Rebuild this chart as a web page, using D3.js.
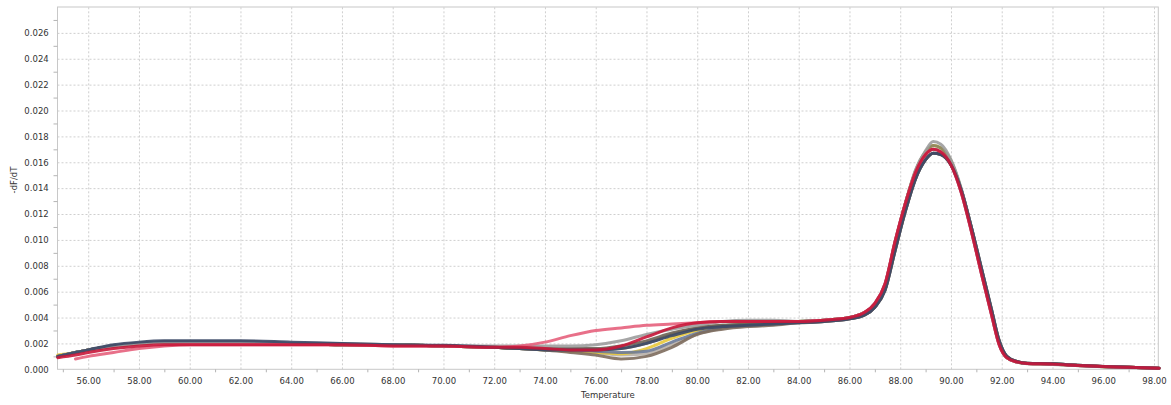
<!DOCTYPE html>
<html>
<head>
<meta charset="utf-8">
<script src="https://cdn.jsdelivr.net/npm/d3@7"></script>
<style>
  html, body { margin: 0; padding: 0; background: #fff; }
  svg { display: block; }
</style>
</head>
<body>
<svg id="chart" width="1171" height="405"></svg>
<script>
// melt curve data
const temps = [54.8, 55.5, 56, 57, 58, 59, 60, 62, 64, 66, 68, 70, 72, 73, 74, 75, 76, 77, 78, 79, 80, 81, 82, 83,
               84, 85, 86, 86.6, 87, 87.4, 87.8, 88.2, 88.6, 89.0, 89.3, 89.6, 90.0, 90.4, 90.8, 91.2, 91.6, 91.9,
               92.2, 92.6, 93, 94, 95, 96, 97, 98.2];

// 54.8 .. 83
const lowNavy      = [0.0010, 0.0013, 0.0015, 0.0019, 0.0021, 0.0022, 0.0022, 0.0022, 0.0021, 0.0020, 0.0019, 0.00185, 0.0017, 0.0016, 0.0015, 0.0015, 0.0015, 0.0016, 0.0020, 0.0026, 0.0031, 0.0033, 0.0034, 0.0035];
const lowRed       = [0.0009, 0.0011, 0.0013, 0.0016, 0.0018, 0.0019, 0.0019, 0.0019, 0.0019, 0.0019, 0.0018, 0.0018, 0.0017, 0.0017, 0.0016, 0.0015, 0.0015, 0.0018, 0.0025, 0.0032, 0.0036, 0.0037, 0.0037, 0.0037];
const lowPink      = [null, 0.0008, 0.0010, 0.0013, 0.0016, 0.0018, 0.0019, 0.0019, 0.0019, 0.0019, 0.0018, 0.0018, 0.0017, 0.0018, 0.0021, 0.0026, 0.0030, 0.0032, 0.0034, 0.0035, 0.0036, 0.0037, 0.0037, 0.0037];
const lowGray      = [0.0010, 0.0013, 0.0015, 0.0018, 0.0020, 0.0021, 0.0021, 0.0021, 0.0020, 0.0020, 0.0019, 0.0018, 0.0018, 0.0018, 0.0018, 0.0018, 0.0019, 0.0022, 0.0027, 0.0031, 0.0034, 0.0037, 0.0038, 0.0038];
const lowLightGray = [0.0010, 0.0013, 0.0015, 0.0018, 0.0020, 0.0021, 0.0021, 0.0021, 0.0020, 0.0019, 0.0019, 0.0018, 0.0017, 0.0016, 0.0015, 0.0014, 0.0013, 0.0011, 0.0012, 0.0019, 0.0027, 0.0032, 0.0035, 0.0037];
const lowYellow    = [0.0011, 0.0013, 0.0015, 0.0018, 0.0020, 0.0021, 0.0021, 0.0021, 0.0020, 0.0019, 0.0019, 0.0018, 0.0017, 0.0016, 0.0015, 0.0014, 0.0013, 0.0012, 0.0016, 0.0024, 0.0030, 0.0033, 0.0034, 0.0035];
const lowOlive     = [0.0010, 0.0013, 0.0015, 0.0018, 0.0020, 0.0021, 0.0021, 0.0021, 0.0020, 0.0019, 0.0019, 0.0018, 0.0017, 0.0016, 0.0016, 0.0015, 0.0015, 0.0016, 0.0020, 0.0027, 0.0032, 0.0034, 0.0035, 0.0036];
const lowBlueGray  = [0.0010, 0.0013, 0.0015, 0.0018, 0.0020, 0.0021, 0.0021, 0.0021, 0.0020, 0.0019, 0.0019, 0.0018, 0.0017, 0.0016, 0.0015, 0.0015, 0.0014, 0.0013, 0.0014, 0.0021, 0.0028, 0.0032, 0.0034, 0.0035];
const lowBrown     = [0.0010, 0.0013, 0.0015, 0.0018, 0.0020, 0.0021, 0.0021, 0.0021, 0.0020, 0.0019, 0.0019, 0.0018, 0.0017, 0.0016, 0.0015, 0.0013, 0.0011, 0.0008, 0.0010, 0.0017, 0.0027, 0.0031, 0.0033, 0.0034];
const lowDarkBrown = [0.0010, 0.0013, 0.0015, 0.0018, 0.0020, 0.0021, 0.0021, 0.0021, 0.0020, 0.0019, 0.0019, 0.0018, 0.0017, 0.0016, 0.0016, 0.0016, 0.0016, 0.0018, 0.0022, 0.0028, 0.0032, 0.0034, 0.0035, 0.0036];

// 84 .. 98.2
const peakTall = [0.0037, 0.0038, 0.0040, 0.0044, 0.0050, 0.0065, 0.0098, 0.0128, 0.0154, 0.0169, 0.0176, 0.0174, 0.0162, 0.0140, 0.0109, 0.0076, 0.0044, 0.0021, 0.0009, 0.00055, 0.00043, 0.00038, 0.00028, 0.00020, 0.00014, 0.00008];
const peakMid  = [0.0037, 0.0038, 0.0040, 0.0044, 0.0050, 0.0065, 0.0098, 0.0128, 0.0153, 0.0168, 0.0173, 0.0171, 0.0161, 0.0139, 0.0109, 0.0076, 0.0044, 0.0021, 0.0009, 0.00056, 0.00044, 0.00039, 0.00029, 0.00020, 0.00015, 0.00008];
const peakRed  = [0.0037, 0.0038, 0.0040, 0.0044, 0.0051, 0.0066, 0.0099, 0.0128, 0.0152, 0.0166, 0.0170, 0.0168, 0.0158, 0.0137, 0.0107, 0.0074, 0.0042, 0.0019, 0.0009, 0.00057, 0.00045, 0.00040, 0.00030, 0.00021, 0.00015, 0.00008];
const peakLow  = [0.0036, 0.0037, 0.0039, 0.0042, 0.0048, 0.0061, 0.0092, 0.0122, 0.0147, 0.0162, 0.0167, 0.0166, 0.0158, 0.0139, 0.0110, 0.0078, 0.0046, 0.0022, 0.0010, 0.00060, 0.00046, 0.00042, 0.00031, 0.00022, 0.00016, 0.00009];

const yTicks = [0.000, 0.002, 0.004, 0.006, 0.008, 0.010, 0.012, 0.014, 0.016, 0.018, 0.020, 0.022, 0.024, 0.026];
const yMinor = [0.001, 0.003, 0.005, 0.007, 0.009, 0.011, 0.013, 0.015, 0.017, 0.019, 0.021, 0.023, 0.025, 0.027];
const xTicks = [56, 58, 60, 62, 64, 66, 68, 70, 72, 74, 76, 78, 80, 82, 84, 86, 88, 90, 92, 94, 96, 98];
const xMinor = [55, 57, 59, 61, 63, 65, 67, 69, 71, 73, 75, 77, 79, 81, 83, 85, 87, 89, 91, 93, 95, 97];

// drawing order: last one ends on top
const series = [
    {color: "#b8b0a8", low: lowLightGray, peak: peakMid},
    {color: "#e8c83a", low: lowYellow,    peak: peakMid},
    {color: "#8a8462", low: lowOlive,     peak: peakMid},
    {color: "#6c7a98", low: lowBlueGray,  peak: peakRed},
    {color: "#6b6355", low: lowDarkBrown, peak: peakLow},
    {color: "#7d6b5d", low: lowBrown,     peak: peakLow},
    {color: "#9c9c9c", low: lowGray,      peak: peakTall},
    {color: "#e5607c", low: lowPink,      peak: peakRed},
    {color: "#3b4866", low: lowNavy,      peak: peakLow},
    {color: "#c8173a", low: lowRed,       peak: peakRed}
];

const plotLeft = 57.5, plotRight = 1158.3, plotTop = 7, plotBottom = 369.3;
const plotWidth = plotRight - plotLeft, plotHeight = plotBottom - plotTop;
const font = "DejaVu Sans";

const svg = d3.select("#chart");

const x = d3.scaleLinear().domain([54.79, 98.17]).range([plotLeft, plotRight]);
const y = d3.scaleLinear().domain([0, 0.028]).range([plotBottom, plotTop]);

// grid
svg.append("g")
    .attr("transform", `translate(0,${plotBottom})`)
    .call(d3.axisBottom(x).tickValues(xTicks).tickSizeInner(-plotHeight).tickSizeOuter(0).tickFormat(""))
    .call(g => g.select(".domain").remove())
    .selectAll("line")
    .attr("stroke", "#cfcfcf")
    .attr("stroke-dasharray", "2,2");

svg.append("g")
    .attr("transform", `translate(${plotLeft},0)`)
    .call(d3.axisLeft(y).tickValues(yTicks.slice(1)).tickSizeInner(-plotWidth).tickSizeOuter(0).tickFormat(""))
    .call(g => g.select(".domain").remove())
    .selectAll("line")
    .attr("stroke", "#cfcfcf")
    .attr("stroke-dasharray", "2,2");

// frame
svg.append("rect")
    .attr("x", plotLeft).attr("y", plotTop)
    .attr("width", plotWidth).attr("height", plotHeight)
    .attr("fill", "none")
    .attr("stroke", "#c8c8c8");

// minor ticks
svg.append("g")
    .attr("transform", `translate(0,${plotBottom})`)
    .call(d3.axisBottom(x).tickValues(xMinor).tickSize(3).tickFormat(""))
    .call(g => g.select(".domain").remove())
    .selectAll("line").attr("stroke", "#b4b4b4");

svg.append("g")
    .attr("transform", `translate(${plotLeft},0)`)
    .call(d3.axisLeft(y).tickValues(yMinor).tickSize(4).tickFormat(""))
    .call(g => g.select(".domain").remove())
    .selectAll("line").attr("stroke", "#b4b4b4");

// tick labels
const xAxis = svg.append("g")
    .attr("transform", `translate(0,${plotBottom})`)
    .call(d3.axisBottom(x).tickValues(xTicks).tickSize(0).tickPadding(9).tickFormat(d3.format(".2f")));
xAxis.select(".domain").remove();

const yAxis = svg.append("g")
    .attr("transform", `translate(${plotLeft},0)`)
    .call(d3.axisLeft(y).tickValues(yTicks).tickSize(0).tickPadding(8.8).tickFormat(d3.format(".3f")));
yAxis.select(".domain").remove();

svg.selectAll(".tick text")
    .attr("font-family", font)
    .attr("font-size", "8.5px")
    .attr("fill", "#333");

// curves
const line = d3.line()
    .defined(d => d[1] !== null)
    .x(d => x(d[0]))
    .y(d => y(d[1]))
    .curve(d3.curveMonotoneX);

const plot = svg.append("g");
series.forEach(s => {
    const values = s.low.concat(s.peak);
    plot.append("path")
        .datum(temps.map((t, i) => [t, values[i]]))
        .attr("d", line)
        .attr("fill", "none")
        .attr("stroke", s.color)
        .attr("stroke-width", 3)
        .attr("stroke-opacity", 0.9)
        .attr("stroke-linejoin", "round")
        .attr("stroke-linecap", "round");
});

// axis titles
svg.append("text")
    .attr("x", (plotLeft + plotRight) / 2)
    .attr("y", 398)
    .attr("text-anchor", "middle")
    .attr("font-family", font)
    .attr("font-size", "8.5px")
    .attr("fill", "#333")
    .text("Temperature");

svg.append("text")
    .attr("transform", "translate(17,180) rotate(-90)")
    .attr("text-anchor", "middle")
    .attr("font-family", font)
    .attr("font-size", "8.5px")
    .attr("fill", "#333")
    .text("-dF/dT");
</script>
</body>
</html>
